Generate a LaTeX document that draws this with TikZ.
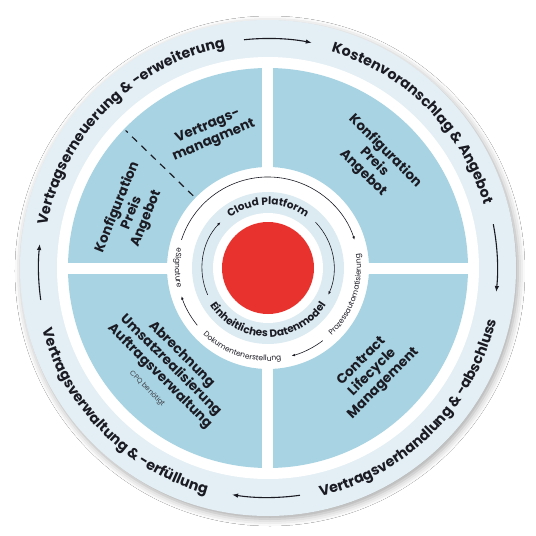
\documentclass[tikz,border=0pt]{standalone}
\usepackage{fontspec}
\setmainfont{Poppins}
\usetikzlibrary{decorations.text,arrows.meta,shadows.blur}
\definecolor{outerbg}{HTML}{E3EFF4}
\definecolor{quadc}{HTML}{A8D3E2}
\definecolor{innerbg}{HTML}{DCEBF1}
\definecolor{redc}{HTML}{E8322E}
\definecolor{ink}{HTML}{1B1B24}
\newcommand\arctext[5]{%
  \path[decorate,decoration={text along path,text align=center,text color=ink,
    text={|#4|#5}}] (#1:#3) arc[start angle=#1,end angle=#2,radius=#3];}
\begin{document}
\begin{tikzpicture}[x=1pt,y=1pt,
  cyclearrow/.style={draw=ink,line width=1.1pt,-{Latex[length=6pt,width=4.5pt]}},
  smallarrow/.style={draw=ink,line width=0.6pt,-{Latex[length=3.5pt,width=2.6pt]}},
  quadtext/.style={text=ink,font=\bfseries\fontsize{13.5}{15.5}\selectfont,align=center,inner sep=0pt}]
\useasboundingbox (-268pt,-268pt) rectangle (268pt,268pt);
\fill[white] (-268pt,-268pt) rectangle (268pt,268pt);
% outer disc with soft shadow
\fill[outerbg,blur shadow={shadow xshift=2pt,shadow yshift=-3pt,shadow blur radius=7pt,shadow opacity=35}] (0,0) circle[radius=248pt];
\fill[white] (0,0) circle[radius=211pt];
% quadrants
\fill[quadc,even odd rule] (0,0) circle[radius=200pt] (0,0) circle[radius=101pt];
\fill[white] (-5.5pt,-205pt) rectangle (5.5pt,205pt);
\fill[white] (-205pt,-5.5pt) rectangle (205pt,5.5pt);
\draw[ink,line width=1.2pt,dash pattern=on 7pt off 6pt] (136:104pt) -- (136:198pt);
% inner rings
\fill[innerbg] (0,0) circle[radius=76pt];
\fill[white] (0,0) circle[radius=55pt];
\fill[redc] (0,0) circle[radius=46pt];
% outer cycle arrows
\draw[cyclearrow] (96:229.5pt) arc[start angle=96,end angle=79,radius=229.5pt];
\draw[cyclearrow] (11:229.5pt) arc[start angle=11,end angle=-6,radius=229.5pt];
\draw[cyclearrow] (-82:229.5pt) arc[start angle=-82,end angle=-99,radius=229.5pt];
\draw[cyclearrow] (188:229.5pt) arc[start angle=188,end angle=174,radius=229.5pt];
% outer labels
\arctext{180}{90}{225pt}{\bfseries\fontsize{14.3}{17}\selectfont}{Vertragserneuerung {\&} -erweiterung}
\arctext{90}{0}{225pt}{\bfseries\fontsize{14.3}{17}\selectfont}{Kostenvoranschlag {\&} Angebot}
\arctext{-90}{0}{234pt}{\bfseries\fontsize{14.3}{17}\selectfont}{Vertragsverhandlung {\&} -abschluss}
\arctext{180}{270}{234pt}{\bfseries\fontsize{14.3}{17}\selectfont}{Vertragsverwaltung {\&} -erfüllung}
% quadrant texts
\node[quadtext,rotate=-45] (q1) at (45:150pt) {Konfiguration\\Preis\\Angebot};
\node[quadtext,rotate=23] (q2) at (113:146pt) {Vertrags-\\managment};
\node[quadtext,rotate=68] (q3) at (158:147pt) {Konfiguration\\Preis\\Angebot};
\node[quadtext,rotate=-45] (q4) at (225:138pt) {Abrechnung\\Umsatzrealisierung\\Auftragsverwaltung};
\node[text=ink!85,font=\fontsize{7}{8}\selectfont,rotate=-45,inner sep=0pt] (q4b) at (225:171pt) {CPQ benötigt};
\node[quadtext,rotate=45] (q5) at (-45:148pt) {Contract\\Lifecycle\\Management};
% small outer process arcs
\draw[smallarrow] (162:91pt) arc[start angle=162,end angle=18,radius=91pt];
\draw[smallarrow] (-53:91pt) arc[start angle=-53,end angle=-75,radius=91pt];
\draw[smallarrow] (-141:91pt) arc[start angle=-141,end angle=-162,radius=91pt];
\arctext{150}{210}{93pt}{\fontsize{7.5}{9}\selectfont}{eSignature}
\arctext{-60}{22}{93pt}{\fontsize{7.5}{9}\selectfont}{Prozessautomatisierung}
\arctext{-150}{-66}{93pt}{\fontsize{7.5}{9}\selectfont}{Dokumentenerstellung}
% inner ring arcs and labels
\draw[smallarrow] (204:66pt) arc[start angle=204,end angle=136,radius=66pt];
\draw[smallarrow] (44:66pt) arc[start angle=44,end angle=-24,radius=66pt];
\arctext{150}{30}{63pt}{\bfseries\fontsize{10.5}{12}\selectfont}{Cloud Platform}
\arctext{200}{340}{69pt}{\bfseries\fontsize{10.5}{12}\selectfont}{Einheitliches Datenmodel}
\end{tikzpicture}
\end{document}
